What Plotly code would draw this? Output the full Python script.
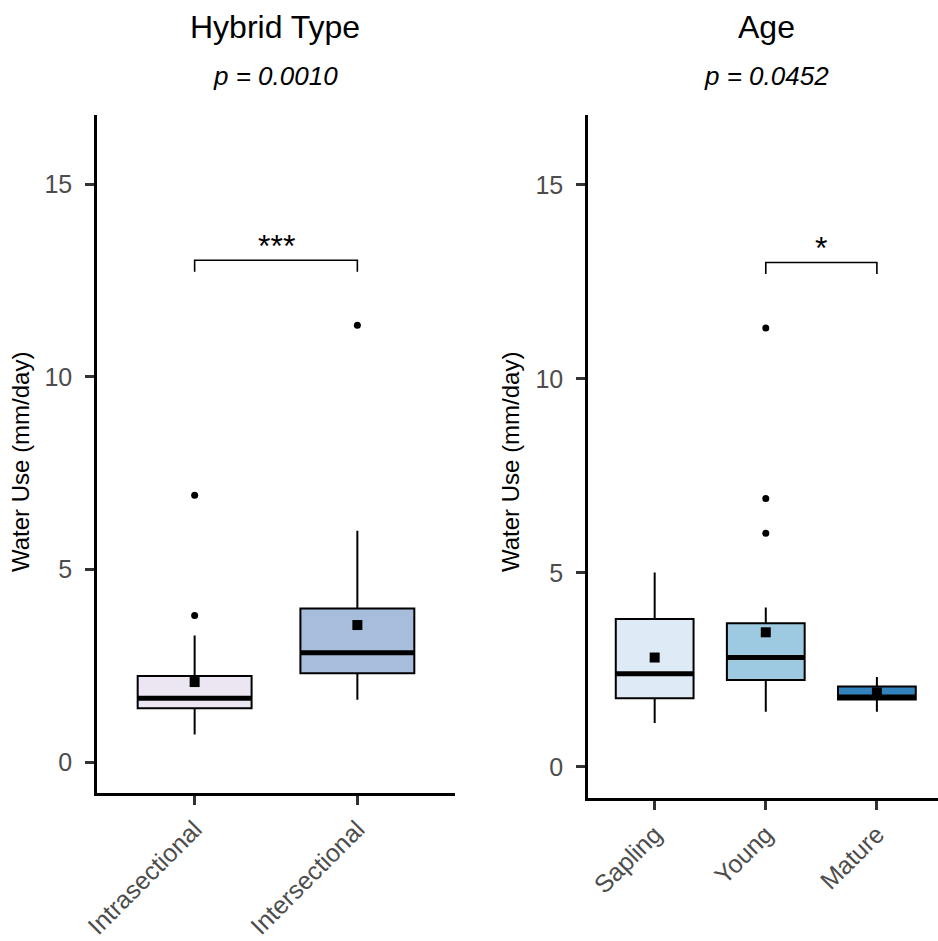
import plotly.graph_objects as go

# Hybrid type panel: box statistics (mm/day)
hybrid_types = ["Intrasectional", "Intersectional"]
hybrid_q1 = [1.40, 2.31]
hybrid_median = [1.66, 2.84]
hybrid_q3 = [2.24, 3.99]
hybrid_lower = [0.72, 1.62]
hybrid_upper = [3.29, 6.01]
hybrid_mean = [2.08, 3.56]
hybrid_outliers = [[3.81, 6.93], [11.34]]
hybrid_colors = ["#EBE6F2", "#A6BDDB"]
hybrid_p = "0.0010"
hybrid_sig = {"from": 1, "to": 2, "y": 13.03, "label": "***"}

# Age panel: box statistics (mm/day)
age_groups = ["Sapling", "Young", "Mature"]
age_q1 = [1.77, 2.24, 1.74]
age_median = [2.40, 2.82, 1.80]
age_q3 = [3.81, 3.70, 2.07]
age_lower = [1.13, 1.42, 1.42]
age_upper = [5.01, 4.11, 2.32]
age_mean = [2.82, 3.47, 1.92]
age_outliers = [[], [6.02, 6.92, 11.31], []]
age_colors = ["#DEEBF7", "#9ECAE1", "#3182BD"]
age_p = "0.0452"
age_sig = {"from": 2, "to": 3, "y": 13.0, "label": "*"}

y_ticks = [0, 5, 10, 15]
y_range = [-0.8, 16.8]

FONT = "Arial, Liberation Sans, sans-serif"
BOX_W = 0.7
TIP = 0.3

fig = go.Figure()


def add_panel(fig, xa, ya, cats, q1, med, q3, lo, hi, mean, outl, colors, sig):
    pos = list(range(1, len(cats) + 1))
    for i, p in enumerate(pos):
        fig.add_trace(go.Box(
            x=[p], q1=[q1[i]], median=[med[i]], q3=[q3[i]],
            lowerfence=[lo[i]], upperfence=[hi[i]],
            width=BOX_W, whiskerwidth=0, boxpoints=False,
            fillcolor=colors[i], line=dict(color="black", width=2),
            xaxis=xa, yaxis=ya, showlegend=False, hoverinfo="skip",
        ))
        # thick median bar
        fig.add_trace(go.Scatter(
            x=[p - BOX_W / 2, p + BOX_W / 2], y=[med[i], med[i]],
            mode="lines", line=dict(color="black", width=5),
            xaxis=xa, yaxis=ya, showlegend=False, hoverinfo="skip",
        ))
        if outl[i]:
            fig.add_trace(go.Scatter(
                x=[p] * len(outl[i]), y=outl[i], mode="markers",
                marker=dict(symbol="circle", size=7, color="black"),
                xaxis=xa, yaxis=ya, showlegend=False, hoverinfo="skip",
            ))
    # group means
    fig.add_trace(go.Scatter(
        x=pos, y=mean, mode="markers",
        marker=dict(symbol="square", size=10, color="black"),
        xaxis=xa, yaxis=ya, showlegend=False, hoverinfo="skip",
    ))
    # significance bracket
    a, b, yb = sig["from"], sig["to"], sig["y"]
    fig.add_trace(go.Scatter(
        x=[a, a, b, b], y=[yb - TIP, yb, yb, yb - TIP], mode="lines",
        line=dict(color="black", width=1.6),
        xaxis=xa, yaxis=ya, showlegend=False, hoverinfo="skip",
    ))
    fig.add_annotation(
        x=(a + b) / 2, y=yb, xref=xa, yref=ya, text=sig["label"],
        showarrow=False, yanchor="bottom", yshift=-6,
        font=dict(family=FONT, size=32, color="black"),
    )


add_panel(fig, "x", "y", hybrid_types, hybrid_q1, hybrid_median, hybrid_q3,
          hybrid_lower, hybrid_upper, hybrid_mean, hybrid_outliers,
          hybrid_colors, hybrid_sig)
add_panel(fig, "x2", "y2", age_groups, age_q1, age_median, age_q3,
          age_lower, age_upper, age_mean, age_outliers, age_colors, age_sig)

W, H = 938, 941

axis_common = dict(
    showline=True, linecolor="black", linewidth=2.5,
    ticks="outside", ticklen=9, tickwidth=2.5, tickcolor="#333333",
    showgrid=False, zeroline=False, automargin=False,
    tickfont=dict(family=FONT, size=25, color="#4D4D4D"),
)

fig.update_layout(
    width=W, height=H,
    margin=dict(l=0, r=0, t=0, b=0),
    paper_bgcolor="white", plot_bgcolor="white",
    xaxis=dict(domain=[97 / W, 455 / W], range=[0.4, 2.6],
               tickvals=[1, 2], ticktext=hybrid_types, tickangle=-45,
               anchor="y", **axis_common),
    yaxis=dict(domain=[(H - 793) / H, (H - 115) / H], range=y_range,
               tickvals=y_ticks, anchor="x", ticklabelstandoff=8,
               **axis_common),
    xaxis2=dict(domain=[588 / W, 1.0], range=[0.4, 3.55],
                tickvals=[1, 2, 3], ticktext=age_groups, tickangle=-45,
                anchor="y2", **axis_common),
    yaxis2=dict(domain=[(H - 798) / H, (H - 115) / H], range=y_range,
                tickvals=y_ticks, anchor="x2", ticklabelstandoff=8,
                **axis_common),
)

# panel titles, p-values and y-axis titles
for cx, title, pval, ylab_x in [(275, "Hybrid Type", hybrid_p, 20),
                                 (766, "Age", age_p, 510)]:
    fig.add_annotation(x=cx / W, y=(H - 27) / H, xref="paper", yref="paper",
                       text=title, showarrow=False, xanchor="center",
                       yanchor="middle",
                       font=dict(family=FONT, size=32, color="black"))
    fig.add_annotation(x=cx / W, y=(H - 76) / H, xref="paper", yref="paper",
                       text=f"<i>p = {pval}</i>", showarrow=False,
                       xanchor="center", yanchor="middle",
                       font=dict(family=FONT, size=26, color="black"))
    fig.add_annotation(x=ylab_x / W, y=(H - 462) / H, xref="paper",
                       yref="paper", text="Water Use (mm/day)",
                       showarrow=False, textangle=-90, xanchor="center",
                       yanchor="middle",
                       font=dict(family=FONT, size=24, color="black"))

fig.write_html("out.html")
